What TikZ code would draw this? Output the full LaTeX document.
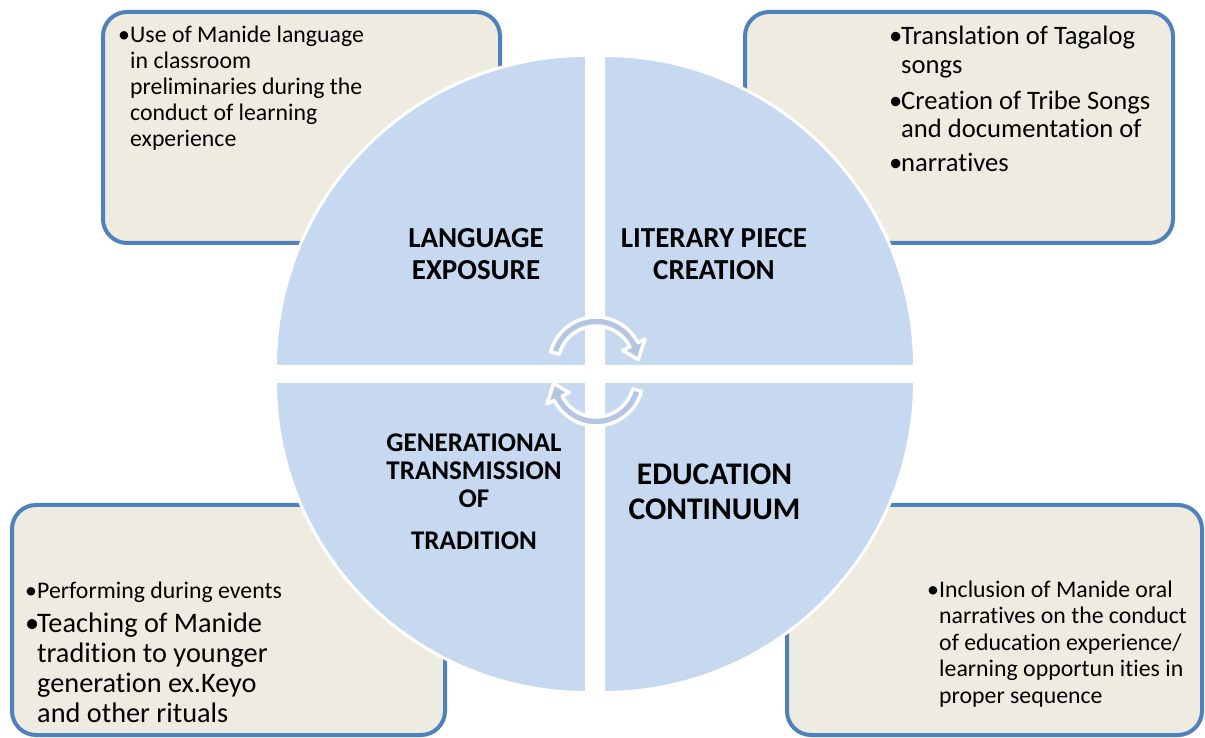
\documentclass[tikz,border=0pt]{standalone}
\usepackage{fontspec}
\setmainfont{Carlito}[Ligatures=NoCommon]
\usepackage{tikz}

\definecolor{boxfill}{HTML}{EEECE1}
\definecolor{boxline}{HTML}{4F81BD}
\definecolor{quadfill}{HTML}{C6D9F1}
\definecolor{cyclefill}{HTML}{B4C6E2}

\begin{document}
\begin{tikzpicture}[
    x=1pt, y=1pt,
    infobox/.style={draw=boxline, line width=4pt, fill=boxfill, rounded corners=24pt, inner sep=0pt}, % Boxes in the corners
    quadrant/.style={fill=quadfill, draw=white, line width=3pt}, % Quarters of the disc
    cyclearrow/.style={fill=cyclefill, draw=white, line width=3.5pt, line join=round}, % Arrows in the middle
    note/.style={inner sep=0pt, anchor=base west}, % Bullet text
    title/.style={inner sep=0pt, anchor=base} % Quarter titles
    ]
    \useasboundingbox (0,0) rectangle (1205,737);

    % corner boxes
    \node[infobox, minimum width=397, minimum height=231] (langbox) at (301.5,609.5) {};
    \node[infobox, minimum width=428, minimum height=231] (litbox) at (959,609.5) {};
    \node[infobox, minimum width=433, minimum height=230] (genbox) at (228.5,117) {};
    \node[infobox, minimum width=415, minimum height=230] (edubox) at (994.5,117) {};

    % the disc, cut in four
    \path[quadrant] (586.5,370.5) -- ++(-311,0) arc[start angle=180, end angle=90, radius=311] -- cycle;
    \path[quadrant] (603.5,370.5) -- ++(0,311) arc[start angle=90, end angle=0, radius=311] -- cycle;
    \path[quadrant] (586.5,355.5) -- ++(0,-311) arc[start angle=270, end angle=180, radius=311] -- cycle;
    \path[quadrant] (603.5,355.5) -- ++(311,0) arc[start angle=0, end angle=-90, radius=311] -- cycle;

    % circular arrows
    \begin{scope}[shift={(596,373)}]
        \path[cyclearrow] (165:47) arc[start angle=165, end angle=27, radius=47] -- (27:55) -- (6:42.5) -- (27:30) -- (27:38) arc[start angle=27, end angle=165, radius=38] -- cycle;
    \end{scope}
    \begin{scope}[shift={(596,358)}, rotate=180]
        \path[cyclearrow] (165:47) arc[start angle=165, end angle=27, radius=47] -- (27:55) -- (6:42.5) -- (27:30) -- (27:38) arc[start angle=27, end angle=165, radius=38] -- cycle;
    \end{scope}

    % quarter titles
    \node[title, font=\fontsize{29}{32}\selectfont\bfseries] (langlbl) at (476,489)
        {\begin{tabular}[t]{@{}c@{}}LANGUAGE\\EXPOSURE\end{tabular}};
    \node[title, font=\fontsize{29}{32}\selectfont\bfseries] (litlbl) at (714,489)
        {\begin{tabular}[t]{@{}c@{}}LITERARY PIECE\\CREATION\end{tabular}};
    \node[title, font=\fontsize{27}{28}\selectfont\bfseries] (genlbl) at (474,285)
        {\begin{tabular}[t]{@{}c@{}}GENERATIONAL\\TRANSMISSION\\OF\\[14pt]TRADITION\end{tabular}};
    \node[title, font=\fontsize{31.5}{35}\selectfont\bfseries] (edulbl) at (714.5,252)
        {\begin{tabular}[t]{@{}c@{}}EDUCATION\\CONTINUUM\end{tabular}};

    % bullet text in the boxes
    \node[note, font=\fontsize{23.8}{26}\selectfont] (langtxt) at (118,694)
        {\begin{tabular}[t]{@{}p{12pt}@{}l@{}}\textbullet & Use of Manide language\\ & in classroom\\ & preliminaries during the\\ & conduct of learning\\ & experience\end{tabular}};

    \node[note, font=\fontsize{26.6}{29}\selectfont] (littxta) at (889,692)
        {\begin{tabular}[t]{@{}p{12pt}@{}l@{}}\textbullet & Translation of Tagalog\\ & songs\end{tabular}};
    \node[note, font=\fontsize{26.6}{28}\selectfont] (littxtb) at (889,627)
        {\begin{tabular}[t]{@{}p{12pt}@{}l@{}}\textbullet & Creation of Tribe Songs\\ & and documentation of\end{tabular}};
    \node[note, font=\fontsize{26.6}{28}\selectfont] (littxtc) at (889,565)
        {\begin{tabular}[t]{@{}p{12pt}@{}l@{}}\textbullet & narratives\end{tabular}};

    \node[note, font=\fontsize{23.8}{27}\selectfont] (gentxta) at (25,139)
        {\begin{tabular}[t]{@{}p{12pt}@{}l@{}}\textbullet & Performing during events\end{tabular}};
    \node[note, font=\fontsize{28.3}{30}\selectfont] (gentxtb) at (25,105)
        {\begin{tabular}[t]{@{}p{12pt}@{}l@{}}\textbullet & Teaching of Manide\\ & tradition to younger\\ & generation ex.Keyo\\ & and other rituals\end{tabular}};

    \node[note, font=\fontsize{23.8}{26.5}\selectfont] (edutxt) at (927,140)
        {\begin{tabular}[t]{@{}p{12pt}@{}l@{}}\textbullet & Inclusion of Manide oral\\ & narratives on the conduct\\ & of education experience/\\ & learning opportun ities in\\ & proper sequence\end{tabular}};
\end{tikzpicture}
\end{document}
